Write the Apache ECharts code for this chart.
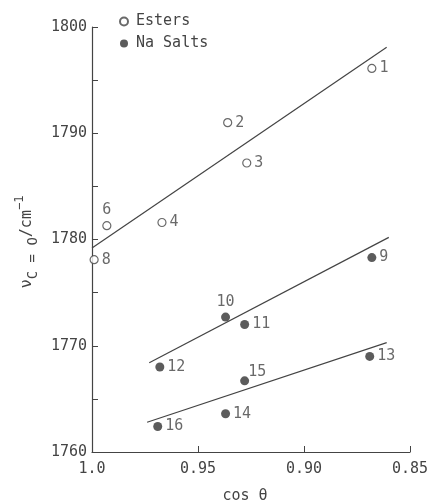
<!DOCTYPE html>
<html>
<head>
<meta charset="utf-8">
<script src="https://cdn.jsdelivr.net/npm/echarts@6/dist/echarts.min.js"></script>
<style>html,body{margin:0;padding:0;background:#fff;}#c{width:430px;height:504px;}</style>
</head>
<body>
<div id="c"></div>
<script>
// Data
var esterLabels = ['1', '2', '3', '4', '6', '8'];
var esterX = [0.868, 0.936, 0.927, 0.967, 0.993, 0.999];
var esterY = [1796.1, 1791.0, 1787.2, 1781.6, 1781.3, 1778.1];

var saltLabels = ['9', '10', '11', '12', '13', '14', '15', '16'];
var saltX = [0.868, 0.937, 0.928, 0.968, 0.869, 0.937, 0.928, 0.969];
var saltY = [1778.3, 1772.7, 1772.0, 1768.0, 1769.0, 1763.6, 1766.7, 1762.4];

var esterLineX = [1.0, 0.861];
var esterLineY = [1779.2, 1798.1];
var saltLine1X = [0.973, 0.860];
var saltLine1Y = [1768.4, 1780.2];
var saltLine2X = [0.974, 0.861];
var saltLine2Y = [1762.8, 1770.3];

var xTicks = ['0.85', '0.90', '0.95', '1.0'];

// label placement overrides (style, not data)
var labelPos = { '6': 'top', '10': 'top', '15': ['90%', '-130%'] };

var FONT = 'DejaVu Sans Mono';
var INK = '#444';

function pts(xs, ys, labels) {
  return xs.map(function (x, i) {
    var d = { value: [x, ys[i]], name: labels ? labels[i] : '' };
    if (labels && labelPos[labels[i]]) {
      d.label = { position: labelPos[labels[i]] };
    }
    return d;
  });
}

var chart = echarts.init(document.getElementById('c'));
var labelStyle = { show: true, position: 'right', distance: 3, formatter: '{b}', fontFamily: FONT, fontSize: 15, color: INK };
var lineStyle = { color: '#444', width: 1.2 };

chart.setOption({
  animation: false,
  backgroundColor: '#fff',
  grid: { left: 92, right: 20, top: 27, bottom: 52, containLabel: false, outerBoundsMode: 'none' },
  legend: {
    data: ['Esters', 'Na Salts'],
    orient: 'vertical',
    left: 114, top: 9,
    itemWidth: 8, itemHeight: 8, itemGap: 7,
    textStyle: { fontFamily: FONT, fontSize: 15, color: INK, padding: [0, 0, 0, 3] }
  },
  xAxis: {
    type: 'value', inverse: true, min: 0.85, max: 1.0, interval: 0.05,
    name: 'cos θ', nameLocation: 'middle', nameGap: 37,
    nameTextStyle: { fontFamily: FONT, fontSize: 15, color: INK, padding: [0, 12, 0, 0] },
    axisLine: { lineStyle: { color: '#444', width: 1.2 } },
    axisTick: { inside: true, length: 6, lineStyle: { color: '#444' } },
    axisLabel: {
      fontFamily: FONT, fontSize: 15, color: INK, margin: 10, showMinLabel: true, showMaxLabel: true,
      formatter: function (v) {
        var i = Math.round((v - 0.85) / 0.05);
        return xTicks[i] !== undefined ? xTicks[i] : '';
      }
    },
    splitLine: { show: false }
  },
  yAxis: {
    type: 'value', min: 1760, max: 1800, interval: 5,
    axisLine: { show: true, lineStyle: { color: '#444', width: 1.2 } },
    axisTick: { show: true, inside: true, length: 6, lineStyle: { color: '#444' } },
    axisLabel: {
      fontFamily: FONT, fontSize: 15, color: INK, margin: 5,
      formatter: function (v) { return v % 10 === 0 ? String(v) : ''; }
    },
    splitLine: { show: false }
  },
  graphic: [{
    type: 'text', x: 27, y: 242, rotation: Math.PI / 2,
    style: {
      text: '{a|ν}{b|C = O}{a|/cm}{c|−1}',
      align: 'center', verticalAlign: 'middle',
      fill: INK,
      rich: {
        a: { fontFamily: FONT, fontSize: 15, fill: INK, lineHeight: 26, verticalAlign: 'middle' },
        b: { fontFamily: FONT, fontSize: 14, fill: INK, lineHeight: 26, verticalAlign: 'bottom', padding: [12, 0, 0, 0] },
        c: { fontFamily: FONT, fontSize: 12, fill: INK, lineHeight: 26, verticalAlign: 'top', padding: [0, 0, 10, 0] }
      }
    }
  }],
  series: [
    { type: 'line', data: pts(esterLineX, esterLineY), symbol: 'none', lineStyle: lineStyle, silent: true, clip: false },
    { type: 'line', data: pts(saltLine1X, saltLine1Y), symbol: 'none', lineStyle: lineStyle, silent: true, clip: false },
    { type: 'line', data: pts(saltLine2X, saltLine2Y), symbol: 'none', lineStyle: lineStyle, silent: true, clip: false },
    {
      name: 'Esters', type: 'scatter', data: pts(esterX, esterY, esterLabels), symbol: 'circle', symbolSize: 8, clip: false,
      itemStyle: { color: '#fff', borderColor: '#444', borderWidth: 1.2 },
      label: labelStyle
    },
    {
      name: 'Na Salts', type: 'scatter', data: pts(saltX, saltY, saltLabels), symbol: 'circle', symbolSize: 9, clip: false,
      itemStyle: { color: '#333', borderColor: '#333', borderWidth: 0 },
      label: labelStyle
    }
  ]
});
</script>
</body>
</html>
